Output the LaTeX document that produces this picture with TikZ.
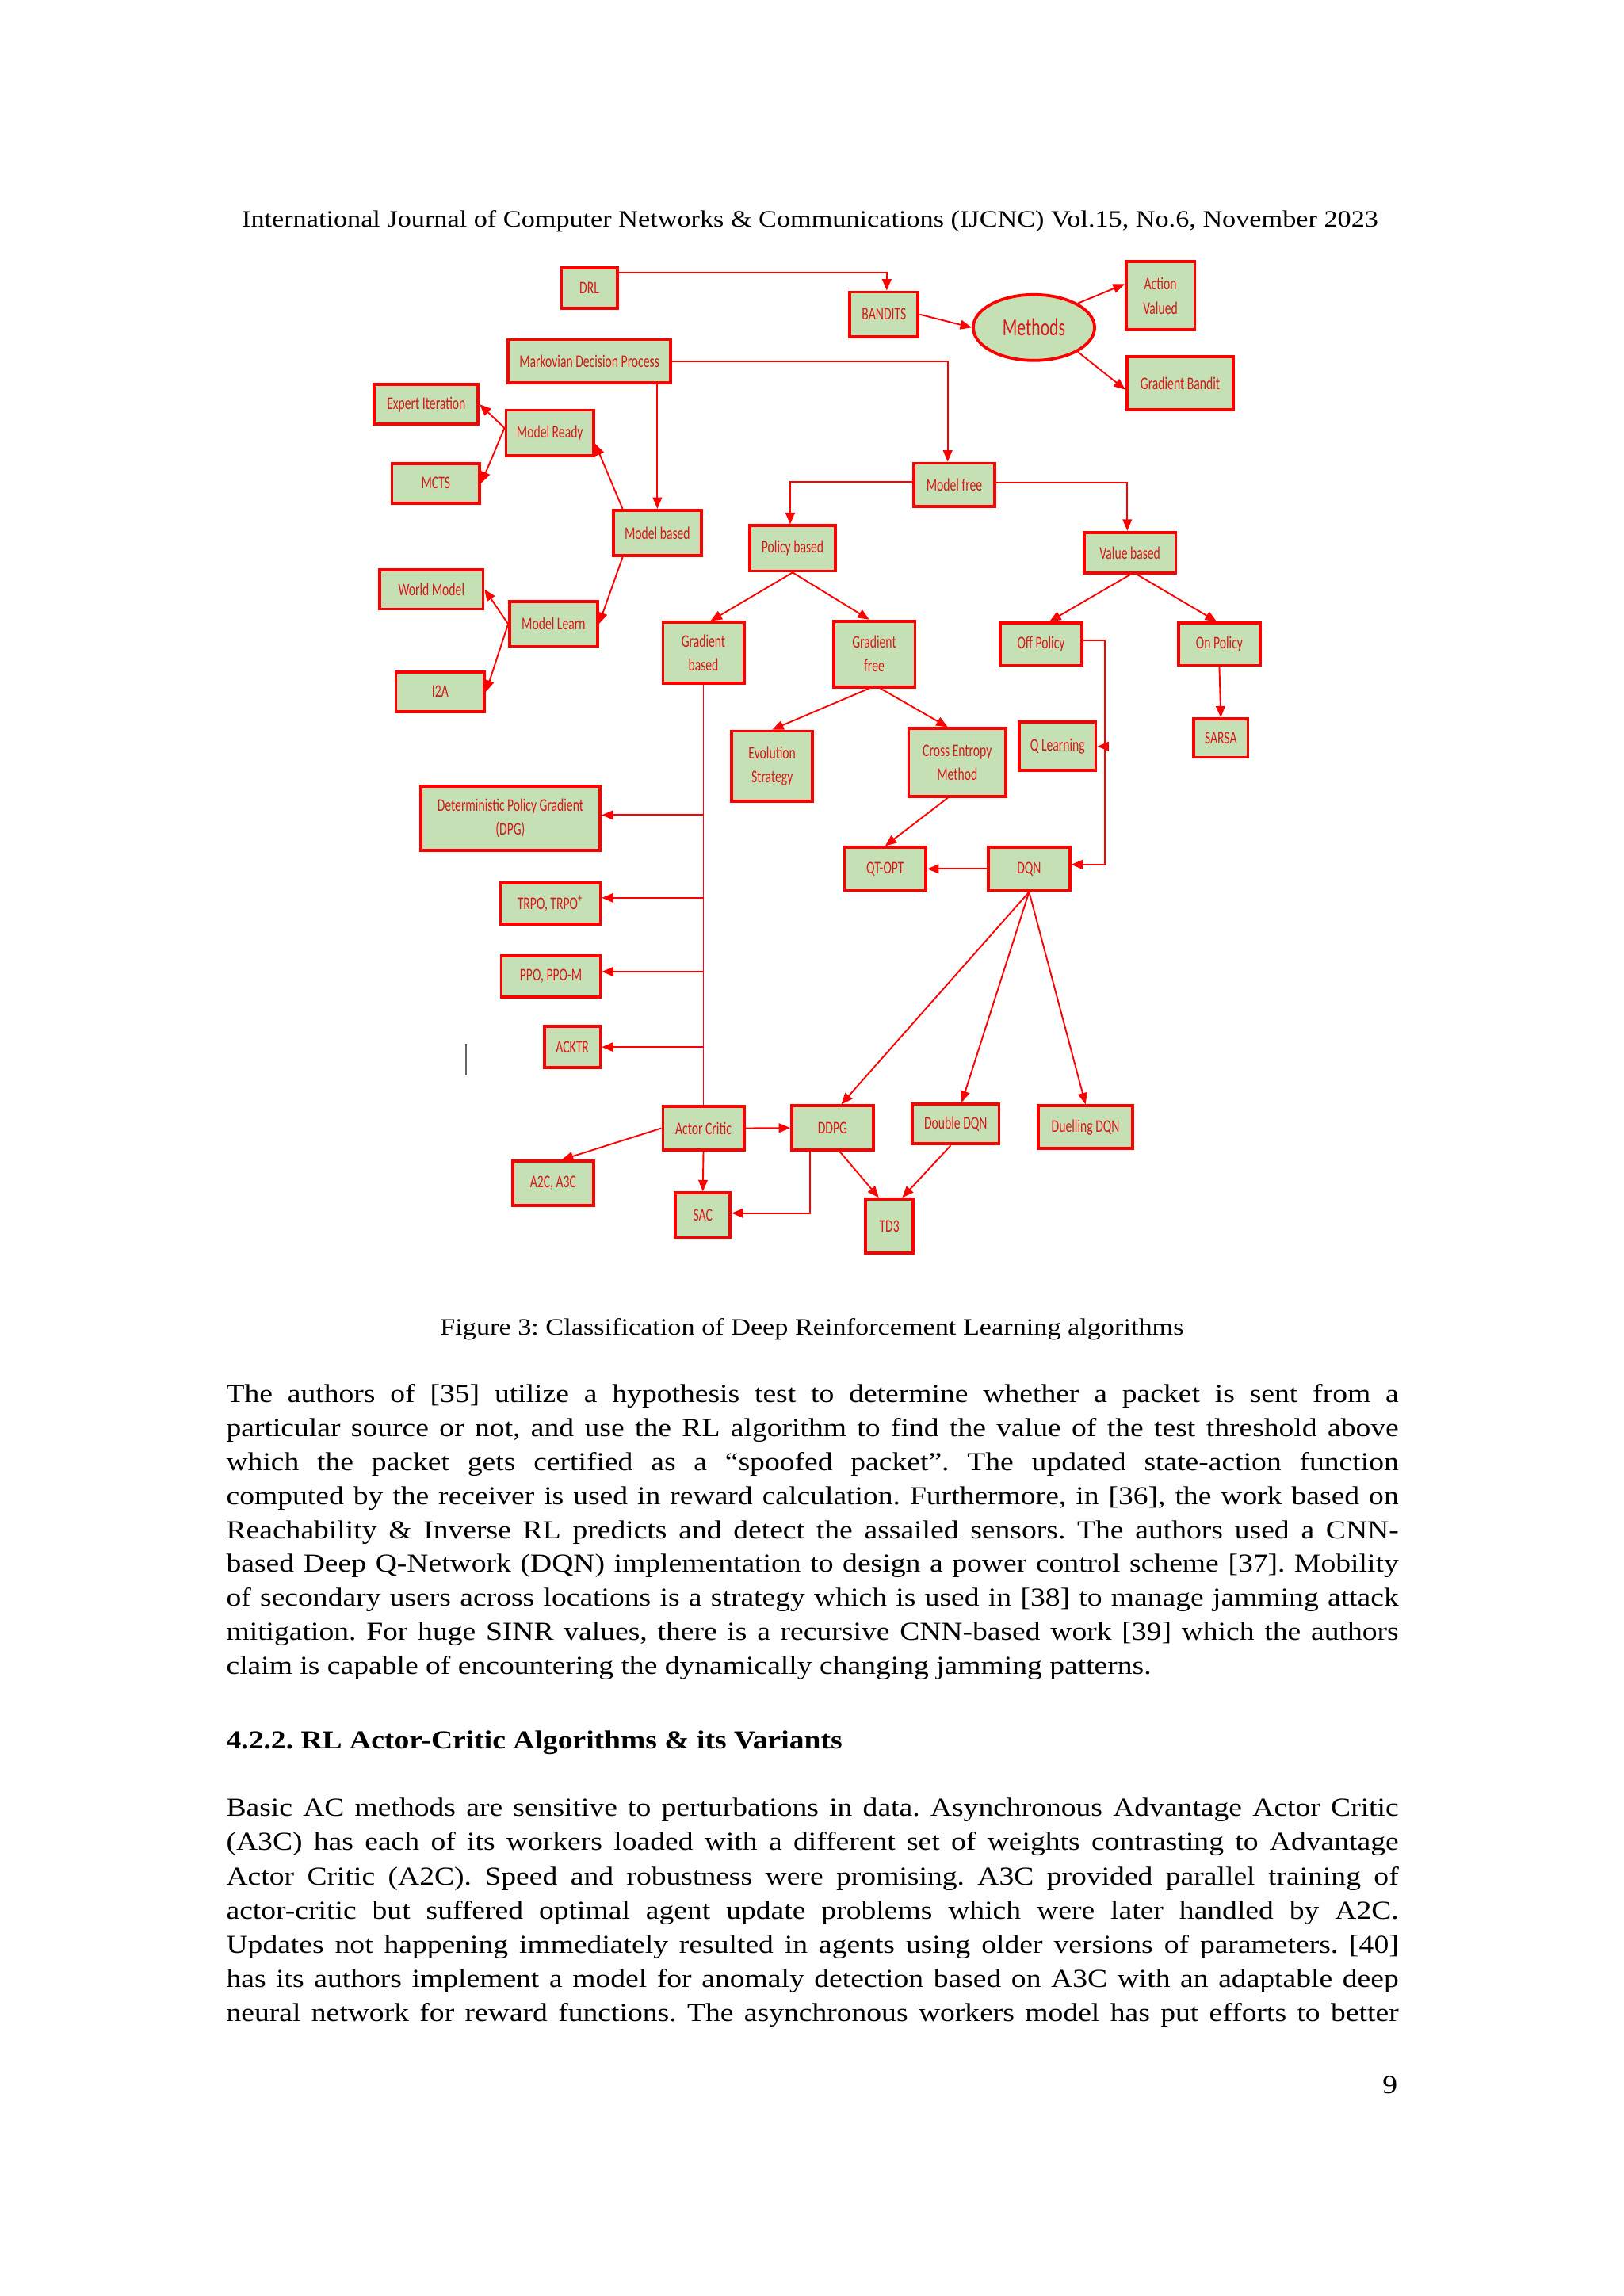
\documentclass[tikz,border=0pt]{standalone}
\usepackage{fontspec}
\usepackage{xcolor}
\usetikzlibrary{arrows.meta, shapes.geometric}

\newfontfamily\pagefont{Liberation Serif}[FakeStretch=1.15]
\newfontfamily\diafont{Carlito}[FakeStretch=0.7]

\definecolor{boxgreen}{RGB}{197,224,180}
\definecolor{boxred}{RGB}{255,0,0}
\definecolor{labred}{RGB}{214,24,24}

\newcommand{\jline}[1]{\makebox[429.9pt][s]{#1}}

\begin{document}
\frenchspacing
\begin{tikzpicture}[
        x=0.53627pt, y=-0.53627pt,
        algo/.style={draw=boxred, line width=1.1pt, fill=boxgreen, text=labred, align=center, inner sep=0pt,
                     font=\diafont\fontsize{6.5pt}{8.8pt}\selectfont},
        boxdim/.style 2 args={minimum width={(#1-2)*0.53627pt}, minimum height={(#2-2)*0.53627pt}},
        flowline/.style={draw=boxred, line width=0.55pt, -{Triangle[length=4.2pt, width=3.4pt]}},
        trunk/.style={draw=boxred, line width=0.55pt},
        bodyline/.style={anchor=base west, inner sep=0pt, font=\pagefont\fontsize{9.5pt}{12pt}\selectfont},
        smallline/.style={anchor=base, inner sep=0pt, font=\pagefont\fontsize{8.65pt}{11pt}\selectfont}
    ]

    % Page
    \useasboundingbox (0,0) rectangle (1110,1570.1);
    \fill[white] (0,0) rectangle (1110,1570.1);

    \node[smallline] (header) at (553.9,155.4) {International Journal of Computer Networks \& Communications (IJCNC) Vol.15, No.6, November 2023};

    % Nodes
    \node[algo, boxdim={40}{30}] (drl) at (403,197) {DRL};
    \node[algo, boxdim={48.6}{32.6}] (bandits) at (604.5,215) {BANDITS};
    \node[algo, ellipse, boxdim={85}{47}, font=\diafont\fontsize{9pt}{10pt}\selectfont] (methods) at (707,224) {Methods};
    \node[algo, boxdim={49}{48.5}] (actval) at (793.5,202.3) {Action\\Valued};
    \node[algo, boxdim={75}{38}] (gbandit) at (807,262) {Gradient Bandit};
    \node[algo, boxdim={113}{31.5}] (mdp) at (403,247) {Markovian Decision Process};
    \node[algo, boxdim={73}{29}] (expit) at (291.5,276.5) {Expert Iteration};
    \node[algo, boxdim={62}{33}] (mready) at (376,296) {Model Ready};
    \node[algo, boxdim={62}{29}] (mcts) at (298,330.5) {MCTS};
    \node[algo, boxdim={57.6}{31.5}] (mfree) at (652.5,331.5) {Model free};
    \node[algo, boxdim={62}{33}] (mbased) at (449.5,364.5) {Model based};
    \node[algo, boxdim={60.5}{33}] (pbased) at (542,375) {Policy based};
    \node[algo, boxdim={64.6}{30}] (vbased) at (772.7,378) {Value based};
    \node[algo, boxdim={72.7}{29}] (world) at (295,403) {World Model};
    \node[algo, boxdim={62}{32.5}] (mlearn) at (378.5,426.7) {Model Learn};
    \node[algo, boxdim={62.6}{29}] (i2a) at (301,473) {I2A};
    \node[algo, boxdim={57.4}{43.7}] (gbased) at (481,446.5) {Gradient\\based};
    \node[algo, boxdim={57.7}{47}] (gfree) at (597.8,447.2) {Gradient\\free};
    \node[algo, boxdim={57.7}{31}] (offp) at (711.9,440.5) {Off Policy};
    \node[algo, boxdim={57.6}{31}] (onp) at (833.8,440.5) {On Policy};
    \node[algo, boxdim={57.4}{50}] (evo) at (528,524) {Evolution\\Strategy};
    \node[algo, boxdim={68.4}{48.4}] (cem) at (654.6,521.4) {Cross Entropy\\Method};
    \node[algo, boxdim={54.2}{35}] (qlearn) at (723.2,510.4) {Q Learning};
    \node[algo, boxdim={39}{28.2}] (sarsa) at (834.8,504.8) {SARSA};
    \node[algo, boxdim={124.8}{46}] (dpg) at (349,559.6) {Deterministic Policy Gradient\\(DPG)};
    \node[algo, boxdim={57.6}{31.4}] (qtopt) at (605.3,594.2) {QT-OPT};
    \node[algo, boxdim={57.6}{31.4}] (dqn) at (703.7,594.2) {DQN};
    \node[algo, boxdim={70.3}{30}] (trpo) at (376.4,617.9) {TRPO, TRPO\textsuperscript{+}};
    \node[algo, boxdim={69.7}{30.2}] (ppo) at (376.7,667.8) {PPO, PPO-M};
    \node[algo, boxdim={40.2}{30}] (acktr) at (391.4,716) {ACKTR};
    \node[algo, boxdim={57.4}{31.8}] (acrit) at (481,771.5) {Actor Critic};
    \node[algo, boxdim={57.7}{32.2}] (ddpg) at (569.3,771.3) {DDPG};
    \node[algo, boxdim={61.3}{29.3}] (ddqn) at (653.5,768.6) {Double DQN};
    \node[algo, boxdim={66.6}{31.2}] (duel) at (742.3,770.8) {Duelling DQN};
    \node[algo, boxdim={57.5}{32.2}] (a2c) at (378.2,809.2) {A2C, A3C};
    \node[algo, boxdim={39.4}{32.5}] (sac) at (480.6,831) {SAC};
    \node[algo, boxdim={34.4}{38.8}] (td3) at (608.2,838.4) {TD3};

    % Arrows
    \draw[flowline] ([yshift=5.7pt]drl.east) -| ([xshift=1pt]bandits.north);
    \draw[flowline] (mdp.east) -| ([xshift=-2.4pt]mfree.north);
    \draw[flowline] (mbased.north |- mdp.south) -- (mbased.north);
    \draw[flowline] ([xshift=3.9pt]mbased.north west) -- ([yshift=-4pt]mready.east);
    \draw[flowline] ([xshift=3.9pt]mbased.south west) -- (mlearn.east);
    \draw[flowline] ([yshift=1.8pt]mready.west) -- (expit.east);
    \draw[flowline] ([yshift=1.8pt]mready.west) -- (mcts.east);
    \draw[flowline] (mlearn.west) -- (world.east);
    \draw[flowline] (mlearn.west) -- (i2a.east);
    \draw[flowline] (bandits.east) -- (methods.west);
    \draw[flowline] (methods.north east) -- ([yshift=4.3pt]actval.west);
    \draw[flowline] (methods.south east) -- ([yshift=-2.4pt]gbandit.west);

    \draw[flowline] ([yshift=1pt]mfree.west) -| ([xshift=-0.9pt]pbased.north);
    \draw[flowline] ([yshift=0.7pt]mfree.east) -| ([xshift=-1pt]vbased.north);
    \draw[flowline] (pbased.south) -- ([xshift=2.6pt]gbased.north);
    \draw[flowline] (pbased.south) -- ([xshift=-1.8pt]gfree.north);
    \draw[flowline] (vbased.south) -- ([xshift=3.1pt]offp.north);
    \draw[flowline] ([xshift=2.7pt]vbased.south) -- ([xshift=-1pt]onp.north);
    \draw[flowline] (onp.south) -- (sarsa.north);
    \draw[flowline] ([xshift=-1.8pt]gfree.south) -- (evo.north);
    \draw[flowline] ([xshift=2.2pt]gfree.south) -- ([xshift=-3.5pt]cem.north);
    \draw[flowline] ([xshift=-3.5pt]cem.south) -- (qtopt.north);
    \draw[flowline] (dqn.west) -- (qtopt.east);

    \coordinate (offturn) at ([xshift=8pt,yshift=1.3pt]offp.east);
    \draw[flowline] ([yshift=1.3pt]offp.east) -- (offturn) |- ([yshift=1.6pt]dqn.east);
    \draw[flowline] (offturn |- qlearn.east) -- (qlearn.east);

    \draw[flowline] (dqn.south) -- ([xshift=3.2pt]ddpg.north);
    \draw[flowline] (dqn.south) -- ([xshift=2.2pt]ddqn.north);
    \draw[flowline] (dqn.south) -- (duel.north);

    \draw[trunk] (gbased.south) -- (acrit.north);
    \coordinate (dpgin) at ([yshift=1.2pt]dpg.east);
    \coordinate (trpoin) at ([yshift=2.1pt]trpo.east);
    \coordinate (ppoin) at ([yshift=1.8pt]ppo.east);
    \draw[flowline] (gbased.south |- dpgin) -- (dpgin);
    \draw[flowline] (gbased.south |- trpoin) -- (trpoin);
    \draw[flowline] (gbased.south |- ppoin) -- (ppoin);
    \draw[flowline] (gbased.south |- acktr.east) -- (acktr.east);

    \draw[flowline] (acrit.west) -- ([xshift=3.2pt]a2c.north);
    \draw[flowline] (acrit.south) -- (sac.north);
    \draw[flowline] (acrit.east) -- (ddpg.west);
    \coordinate (sacin) at ([yshift=0.75pt]sac.east);
    \draw[flowline] ([xshift=-8.3pt]ddpg.south) |- (sacin);
    \draw[flowline] ([xshift=2.6pt]ddpg.south) -- ([xshift=-3.9pt]td3.north);
    \draw[flowline] ([xshift=-1.8pt]ddqn.south) -- ([xshift=4.7pt]td3.north);

    % stray cursor mark
    \draw[black!60, line width=0.6pt] (318.8,714) -- (318.8,735.7);

    % Caption and text
    \node[smallline] (caption) at (555.2,912.9) {Figure 3: Classification of Deep Reinforcement Learning algorithms};

    \node[bodyline] (p1a) at (154.4,959) {\jline{The authors of [35] utilize a hypothesis test to determine whether a packet is sent from a}};
    \node[bodyline] (p1b) at (154.4,982.25) {\jline{particular source or not, and use the RL algorithm to find the value of the test threshold above}};
    \node[bodyline] (p1c) at (154.4,1005.5) {\jline{which the packet gets certified as a “spoofed packet”. The updated state-action function}};
    \node[bodyline] (p1d) at (154.4,1028.75) {\jline{computed by the receiver is used in reward calculation. Furthermore, in [36], the work based on}};
    \node[bodyline] (p1e) at (154.4,1052) {\jline{Reachability \& Inverse RL predicts and detect the assailed sensors. The authors used a CNN-}};
    \node[bodyline] (p1f) at (154.4,1075.25) {\jline{based Deep Q-Network (DQN) implementation to design a power control scheme [37]. Mobility}};
    \node[bodyline] (p1g) at (154.4,1098.5) {\jline{of secondary users across locations is a strategy which is used in [38] to manage jamming attack}};
    \node[bodyline] (p1h) at (154.4,1121.75) {\jline{mitigation. For huge SINR values, there is a recursive CNN-based work [39] which the authors}};
    \node[bodyline] (p1i) at (154.4,1145) {claim is capable of encountering the dynamically changing jamming patterns.};

    \node[bodyline, font=\pagefont\bfseries\fontsize{9.5pt}{12pt}\selectfont] (heading) at (154.4,1195.7) {4.2.2. RL Actor-Critic Algorithms \& its Variants};

    \node[bodyline] (p2a) at (154.4,1242) {\jline{Basic AC methods are sensitive to perturbations in data. Asynchronous Advantage Actor Critic}};
    \node[bodyline] (p2b) at (154.4,1265.4) {\jline{(A3C) has each of its workers loaded with a different set of weights contrasting to Advantage}};
    \node[bodyline] (p2c) at (154.4,1288.8) {\jline{Actor Critic (A2C). Speed and robustness were promising. A3C provided parallel training of}};
    \node[bodyline] (p2d) at (154.4,1312.2) {\jline{actor-critic but suffered optimal agent update problems which were later handled by A2C.}};
    \node[bodyline] (p2e) at (154.4,1335.6) {\jline{Updates not happening immediately resulted in agents using older versions of parameters. [40]}};
    \node[bodyline] (p2f) at (154.4,1359) {\jline{has its authors implement a model for anomaly detection based on A3C with an adaptable deep}};
    \node[bodyline] (p2g) at (154.4,1382.4) {\jline{neural network for reward functions. The asynchronous workers model has put efforts to better}};

    \node[bodyline, anchor=base east] (pageno) at (956,1431.8) {9};

    \end{tikzpicture}
\end{document}
